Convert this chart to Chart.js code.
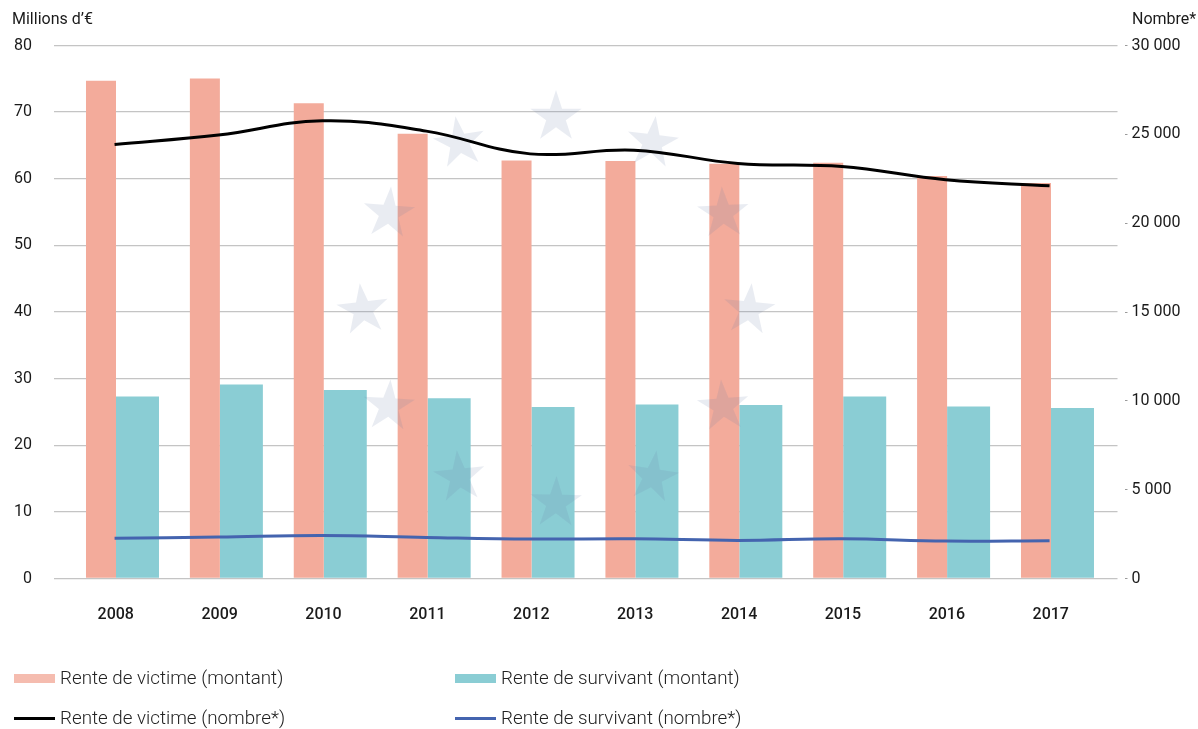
<!DOCTYPE html>
<html lang="fr">
<head>
<meta charset="utf-8">
<title>Rentes</title>
<script src="https://cdn.jsdelivr.net/npm/chart.js@4.4.1/dist/chart.umd.min.js"></script>
<style>
  html, body { margin: 0; padding: 0; background: #fff; overflow: hidden; }
  #wrap { position: relative; width: 1198px; height: 729px; font-family: Roboto, "Noto Sans", sans-serif; color: #222; }
  #chart { position: absolute; left: 0; top: 0; }
  .axis-title { position: absolute; top: 8px; font-size: 16px; line-height: 22px; color: #1a1a1a; white-space: nowrap; }
  .leg { position: absolute; display: flex; align-items: center; font-size: 18.8px; font-weight: 300; color: #222; white-space: nowrap; height: 24px; }
  .sw { position: absolute; left: 0; }
</style>
</head>
<body>
<div id="wrap">
  <canvas id="chart" width="1198" height="729"></canvas>
  <div class="axis-title" style="left:12px;">Millions d’€</div>
  <div class="axis-title" style="left:1132px;">Nombre*</div>
  <div id="legend"></div>
</div>
<script>
// ---- data ----
const years = ['2008','2009','2010','2011','2012','2013','2014','2015','2016','2017'];
const victimeMontant   = [74.7, 75.05, 71.35, 66.75, 62.75, 62.65, 62.25, 62.4, 60.4, 59.35];
const survivantMontant = [27.3, 29.1, 28.3, 27.05, 25.75, 26.1, 26.05, 27.3, 25.8, 25.6];
const victimeNombre    = [24430, 24960, 25760, 25180, 23900, 24110, 23360, 23190, 22450, 22100];
const survivantNombre  = [2260, 2330, 2425, 2310, 2220, 2240, 2145, 2240, 2105, 2125];
const leftTicks  = [0, 10, 20, 30, 40, 50, 60, 70, 80];
const rightTicks = [0, 5000, 10000, 15000, 20000, 25000, 30000];
const seriesLabels = [
  'Rente de victime (montant)',
  'Rente de survivant (montant)',
  'Rente de victime (nombre*)',
  'Rente de survivant (nombre*)'
];

// ---- styles ----
const C_SALMON = '#F3AB9B';
const C_TEAL = '#8ACDD4';
const C_BLACK = '#000000';
const C_BLUE = '#4464AF';
const GRID = '#c4c4c4';
const LINE_SHIFT = -0.045;

const fmt = v => String(v).replace(/\B(?=(\d{3})+(?!\d))/g, ' ');
const pts = (arr, shift) => arr.map((v, i) => ({ x: i + shift, y: v }));

Chart.defaults.font.family = 'Roboto, "Noto Sans", sans-serif';
Chart.defaults.color = '#1a1a1a';

// decorative star watermark, drawn between bars and lines
const starPlugin = {
  id: 'stars',
  beforeDatasetsDraw(chart) { chart.$starsDone = false; },
  beforeDatasetDraw(chart, args) {
    if (chart.$starsDone || args.meta.type !== 'line') return;
    chart.$starsDone = true;
    const ctx = chart.ctx;
    const cx = 556, cy = 310, rad = 193, R = 27, r = R * 0.382;
    const tilt = [0, 0.12, -0.05, 0.1, -0.08, 0.15, 0.02, -0.1, 0.06, -0.12, 0.08, -0.15];
    ctx.save();
    ctx.fillStyle = 'rgba(110,125,170,0.15)';
    for (let k = 0; k < 12; k++) {
      const a = -Math.PI / 2 + k * Math.PI / 6;
      const sx = cx + rad * Math.cos(a), sy = cy + rad * Math.sin(a);
      ctx.beginPath();
      for (let j = 0; j < 10; j++) {
        const rr = j % 2 === 0 ? R : r;
        const b = -Math.PI / 2 + tilt[k] + j * Math.PI / 5;
        const px = sx + rr * Math.cos(b), py = sy + rr * Math.sin(b);
        if (j === 0) ctx.moveTo(px, py); else ctx.lineTo(px, py);
      }
      ctx.closePath();
      ctx.fill();
    }
    ctx.restore();
  }
};

const chart = new Chart(document.getElementById('chart'), {
  type: 'bar',
  data: {
    datasets: [
      { type: 'bar', label: seriesLabels[0], data: pts(victimeMontant, 0), backgroundColor: C_SALMON,
        yAxisID: 'y', order: 1, barPercentage: 0.822, categoryPercentage: 0.7027 },
      { type: 'bar', label: seriesLabels[1], data: pts(survivantMontant, 0), backgroundColor: C_TEAL,
        yAxisID: 'y', order: 1, barPercentage: 1.178, categoryPercentage: 0.7027 },
      { type: 'line', label: seriesLabels[2], data: pts(victimeNombre, LINE_SHIFT), borderColor: C_BLACK,
        backgroundColor: C_BLACK, borderWidth: 3, pointRadius: 0, tension: 0.4, yAxisID: 'y2', order: 0 },
      { type: 'line', label: seriesLabels[3], data: pts(survivantNombre, LINE_SHIFT), borderColor: C_BLUE,
        backgroundColor: C_BLUE, borderWidth: 3, pointRadius: 0, tension: 0.4, yAxisID: 'y2', order: 0 }
    ]
  },
  options: {
    responsive: false,
    animation: false,
    events: [],
    layout: { padding: { left: 0, right: 0, top: 45.5, bottom: 0 } },
    plugins: { legend: { display: false }, tooltip: { enabled: false }, title: { display: false } },
    scales: {
      x: {
        type: 'linear',
        offset: false,
        min: -0.628,
        max: 9.609,
        grid: { display: false, drawTicks: false },
        border: { display: false },
        afterBuildTicks: s => { s.ticks = years.map((y, i) => ({ value: i })); },
        afterFit: s => { s.height = 150.5; },
        ticks: {
          includeBounds: false,
          autoSkip: false,
          maxRotation: 0,
          padding: 26.5,
          labelOffset: -3.5,
          color: '#1a1a1a',
          font: { size: 16, weight: 500 },
          callback: v => years[Math.round(v)]
        }
      },
      y: {
        position: 'left',
        min: 0,
        max: 80,
        afterBuildTicks: s => { s.ticks = leftTicks.map(v => ({ value: v })); },
        afterFit: s => { s.width = 54; },
        grid: { color: GRID, lineWidth: 1.3, drawTicks: false },
        border: { display: false },
        ticks: { padding: 22, font: { size: 16 }, color: '#1a1a1a' }
      },
      y2: {
        position: 'right',
        min: 0,
        max: 30000,
        afterBuildTicks: s => { s.ticks = rightTicks.map(v => ({ value: v })); },
        afterFit: s => { s.width = 80.5; },
        grid: { drawOnChartArea: false, drawTicks: true, tickLength: 10, tickColor: '#9a9a9a',
                tickWidth: 1, tickBorderDash: [3, 7], tickBorderDashOffset: 3 },
        border: { display: false },
        ticks: { padding: 4, font: { size: 16 }, color: '#1a1a1a', callback: v => fmt(v) }
      }
    }
  },
  plugins: [starPlugin]
});

// HTML legend built from dataset labels/colors
(function buildLegend() {
  const host = document.getElementById('legend');
  const pos = [
    { x: 14, y: 678 }, { x: 455, y: 678 },
    { x: 14, y: 718 }, { x: 455, y: 718 }
  ];
  chart.data.datasets.forEach((ds, i) => {
    const p = pos[i];
    const item = document.createElement('div');
    item.className = 'leg';
    item.style.left = p.x + 'px';
    item.style.top = (p.y - 12) + 'px';
    item.style.paddingLeft = '46px';
    const sw = document.createElement('span');
    sw.className = 'sw';
    const isBar = ds.type === 'bar';
    const h = isBar ? 9 : 3;
    sw.style.width = '41px';
    sw.style.height = h + 'px';
    sw.style.top = (12 - h / 2) + 'px';
    sw.style.background = isBar ? ds.backgroundColor : ds.borderColor;
    if (isBar && i === 0) sw.style.opacity = '0.8';
    item.appendChild(sw);
    item.appendChild(document.createTextNode(ds.label));
    host.appendChild(item);
  });
})();
</script>
</body>
</html>
